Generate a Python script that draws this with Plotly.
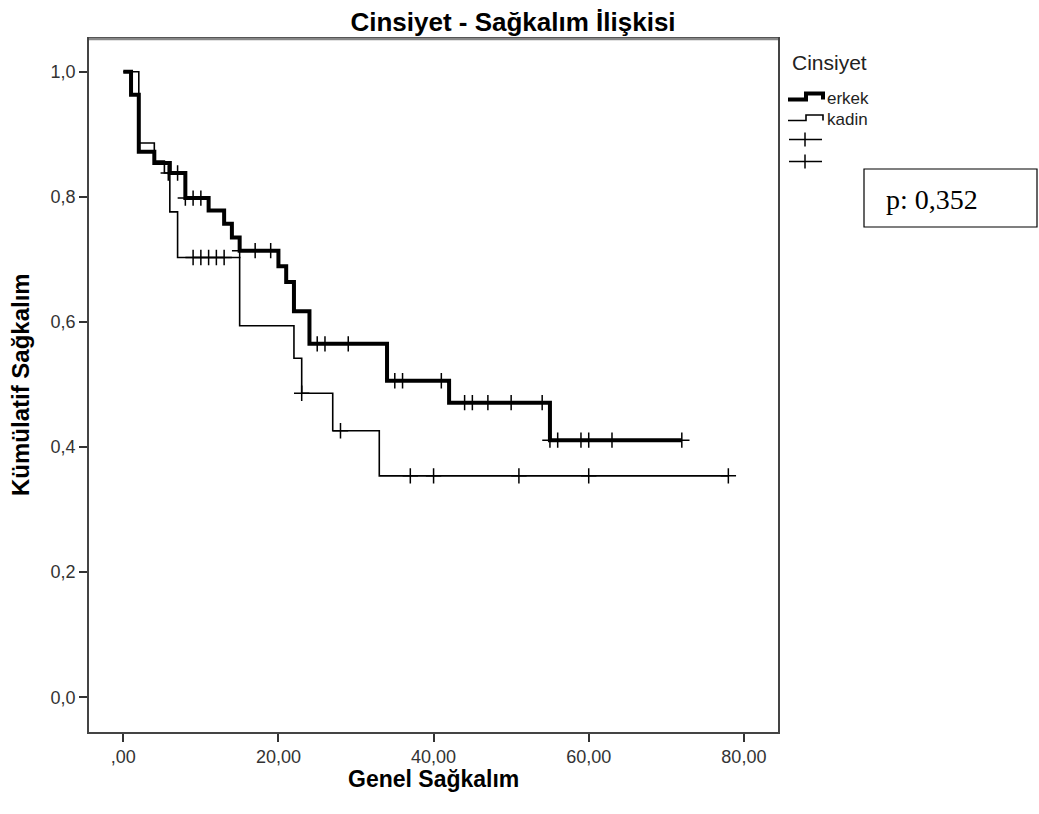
import plotly.graph_objects as go

# Kaplan-Meier steps per group: event times (months) and survival after each event
erkek_event_t = [0, 1, 2, 4, 6, 8, 11, 13, 14, 15, 20, 21, 22, 24, 34, 42, 55]
erkek_surv = [1.0, 0.963, 0.872, 0.854, 0.838, 0.798, 0.778, 0.757, 0.735,
              0.714, 0.689, 0.664, 0.617, 0.565, 0.506, 0.471, 0.411]
erkek_last_t = 72
erkek_censor_t = [7, 8, 9, 10, 15, 17, 19, 25, 26, 29, 35, 36, 41, 44, 45, 47,
                  50, 54, 55, 56, 59, 60, 63, 72]

kadin_event_t = [0, 2, 4, 5.3, 6, 7, 15, 22, 23, 27, 33]
kadin_surv = [1.0, 0.886, 0.857, 0.838, 0.776, 0.703, 0.594, 0.542, 0.486,
              0.426, 0.354]
kadin_last_t = 78
kadin_censor_t = [5.8, 9, 10, 11, 12, 13, 23, 28, 37, 40, 51, 60, 78]

x_tick_vals = [0, 20, 40, 60, 80]
x_tick_text = [",00", "20,00", "40,00", "60,00", "80,00"]
y_tick_vals = [0.0, 0.2, 0.4, 0.6, 0.8, 1.0]
y_tick_text = ["0,0", "0,2", "0,4", "0,6", "0,8", "1,0"]

p_value_text = "p: 0,352"

W, H = 1039, 814
L, R, T, B = 89, 778, 39, 732
FONT = "Liberation Sans, Arial, sans-serif"


def surv_at(times, surv, t):
    s = surv[0]
    for ti, si in zip(times, surv):
        if ti <= t:
            s = si
    return s


def px(x):
    return (x - L) / (R - L)


def py(y):
    return (B - y) / (B - T)


fig = go.Figure()

groups = [
    ("erkek", erkek_event_t, erkek_surv, erkek_last_t, erkek_censor_t, 4.0),
    ("kadin", kadin_event_t, kadin_surv, kadin_last_t, kadin_censor_t, 1.6),
]
for name, et, sv, last_t, ct, lw in groups:
    fig.add_trace(go.Scatter(
        x=et + [last_t], y=sv + [sv[-1]], mode="lines", name=name,
        line=dict(color="black", width=lw, shape="hv"), showlegend=False,
        hoverinfo="skip"))
    fig.add_trace(go.Scatter(
        x=ct, y=[surv_at(et, sv, t) for t in ct], mode="markers",
        name=name + " censored", showlegend=False,
        marker=dict(symbol="cross-thin", size=11,
                    line=dict(color="black", width=1.5)),
        hoverinfo="skip"))

axis_common = dict(
    showgrid=False, zeroline=False, showline=True, mirror=True,
    linecolor="#444", linewidth=1.5, ticks="outside", ticklen=8,
    tickwidth=1.5, tickcolor="#333",
    tickfont=dict(family=FONT, size=18, color="#333"))

fig.update_xaxes(range=[-4.42, 84.4], tickvals=x_tick_vals,
                 ticktext=x_tick_text, **axis_common)
fig.update_yaxes(range=[-0.0555, 1.0523], tickvals=y_tick_vals,
                 ticktext=y_tick_text, **axis_common)

annotations = [
    dict(text="<b>Genel Sağkalım</b>", x=0.5, y=py(779), xref="paper",
         yref="paper", showarrow=False, xanchor="center", yanchor="middle",
         font=dict(family=FONT, size=23, color="black")),
    dict(text="<b>Kümülatif Sağkalım</b>", x=px(20), y=py(385),
         xref="paper", yref="paper", showarrow=False, textangle=-90,
         xanchor="center", yanchor="middle",
         font=dict(family=FONT, size=24, color="black")),
    dict(text="Cinsiyet", x=px(790), y=py(62), xref="paper", yref="paper",
         showarrow=False, xanchor="left", yanchor="middle",
         font=dict(family=FONT, size=21, color="#222")),
    dict(text="erkek", x=px(825), y=py(98), xref="paper", yref="paper",
         showarrow=False, xanchor="left", yanchor="middle",
         font=dict(family=FONT, size=17, color="#222")),
    dict(text="kadin", x=px(825), y=py(119), xref="paper", yref="paper",
         showarrow=False, xanchor="left", yanchor="middle",
         font=dict(family=FONT, size=17, color="#222")),
    dict(text=p_value_text, x=px(884), y=py(199), xref="paper",
         yref="paper", showarrow=False, xanchor="left", yanchor="middle",
         font=dict(family="Liberation Serif, Times New Roman, serif",
                   size=28, color="black")),
]


def step_glyph(y_low, y_high):
    return (f"M {px(788)},{py(y_low)} L {px(806)},{py(y_low)} "
            f"L {px(806)},{py(y_high)} L {px(823)},{py(y_high)} "
            f"L {px(823)},{py(y_low)}")


shapes = [
    dict(type="path", path=step_glyph(99.5, 93.5), xref="paper",
         yref="paper", line=dict(color="black", width=4)),
    dict(type="path", path=step_glyph(120.5, 115), xref="paper",
         yref="paper", line=dict(color="black", width=1.6)),
]
for yc in (139.5, 161.5):
    shapes.append(dict(type="line", x0=px(789), x1=px(822), y0=py(yc),
                       y1=py(yc), xref="paper", yref="paper",
                       line=dict(color="black", width=1.5)))
    shapes.append(dict(type="line", x0=px(805), x1=px(805), y0=py(yc - 7),
                       y1=py(yc + 7), xref="paper", yref="paper",
                       line=dict(color="black", width=1.5)))
shapes.append(dict(type="rect", x0=px(864), x1=px(1037), y0=py(169),
                   y1=py(227), xref="paper", yref="paper",
                   line=dict(color="black", width=1.2), fillcolor="white"))
# lighter top edge of the frame
shapes.append(dict(type="line", x0=0, x1=1, y0=1, y1=1, xref="paper",
                   yref="paper", line=dict(color="#888", width=2.5)))

fig.update_layout(
    width=W, height=H,
    margin=dict(l=L, r=W - R, t=T, b=H - B, pad=0),
    paper_bgcolor="white", plot_bgcolor="white",
    title=dict(text="<b>Cinsiyet - Sağkalım İlişkisi</b>", x=513 / W,
               xref="container", xanchor="center", y=1 - 22 / H,
               yref="container", yanchor="middle",
               font=dict(family=FONT, size=26, color="black")),
    showlegend=False,
    annotations=annotations,
    shapes=shapes,
)

fig.write_html("out.html")
